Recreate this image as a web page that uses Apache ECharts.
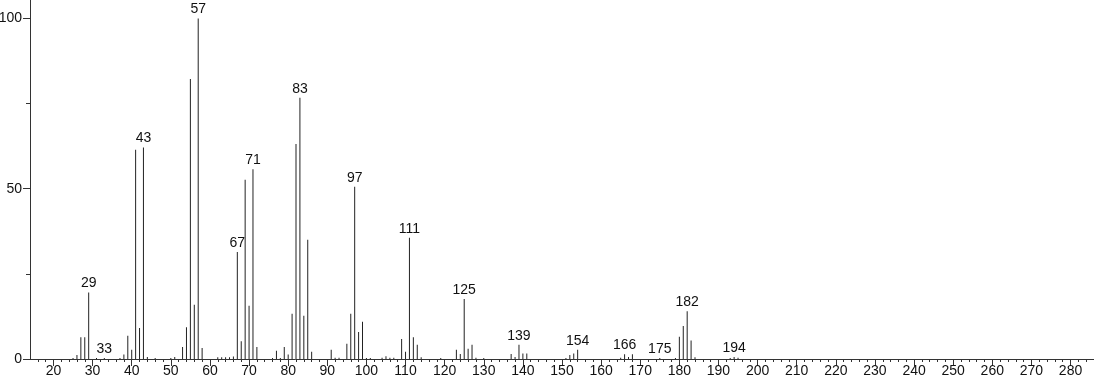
<!DOCTYPE html>
<html>
<head>
<meta charset="utf-8">
<script src="https://cdn.jsdelivr.net/npm/echarts@6/dist/echarts.min.js"></script>
<style>
html,body{margin:0;padding:0;background:#fff;}
#chart{width:1094px;height:384px;}
</style>
</head>
<body>
<div id="chart"></div>
<script>
// m/z values
const masses = [25,26,27,28,29,31,33,37,38,39,40,41,42,43,44,46,50,51,53,54,55,56,57,58,
  62,63,64,65,66,67,68,69,70,71,72,76,77,78,79,80,81,82,83,84,85,86,91,92,93,95,96,97,98,99,
  100,101,104,105,106,107,109,110,111,112,113,114,119,123,124,125,126,127,128,130,
  137,138,139,140,141,151,152,153,154,165,166,167,168,175,179,180,181,182,183,184,193,194,195];
// relative intensities
const intensities = [0.3,1.2,6.4,6.4,19.5,0.3,0.3,0.3,1.3,6.8,2.7,61.4,9.1,62.1,0.6,0.3,0.3,0.6,3.5,9.3,82.2,15.9,100,3.2,
  0.5,0.5,0.5,0.5,0.7,31.4,5.2,52.6,15.6,55.7,3.5,0.3,2.4,0.3,3.5,1.3,13.3,63.1,76.7,12.7,35.0,2.1,2.7,0.4,0.4,4.5,13.3,50.6,7.9,10.9,
  0.3,0.3,0.4,0.8,0.4,0.4,5.9,2.1,35.6,6.4,4.2,0.5,0.3,2.7,1.5,17.6,3.0,4.2,0.4,0.3,
  1.5,0.6,4.2,1.6,1.6,0.3,1.2,1.6,2.7,0.4,1.4,0.6,1.4,0.3,0.3,6.5,9.7,14.0,5.4,0.5,0.3,0.6,0.4];
// peaks that carry a label
const labeledPeaks = [29,33,43,57,67,71,83,97,111,125,139,154,166,175,182,194];
// axis ticks
const xMajorTicks = [20,30,40,50,60,70,80,90,100,110,120,130,140,150,160,170,180,190,200,210,220,230,240,250,260,270,280];
const xMinorTicks = [16,18,22,24,26,28,32,34,36,38,42,44,46,48,52,54,56,58,62,64,66,68,72,74,76,78,82,84,86,88,92,94,96,98,
  102,104,106,108,112,114,116,118,122,124,126,128,132,134,136,138,142,144,146,148,152,154,156,158,
  162,164,166,168,172,174,176,178,182,184,186,188,192,194,196,198,202,204,206,208,212,214,216,218,
  222,224,226,228,232,234,236,238,242,244,246,248,252,254,256,258,262,264,266,268,272,274,276,278,282,284];
const yMajorTicks = [0,50,100];
const yMinorTicks = [25,75];

const FONT = "'Liberation Sans', Arial, sans-serif";
const axisColor = '#333';

const data = masses.map((m, i) => ({
  value: [m, intensities[i]],
  label: { show: labeledPeaks.includes(m) }
}));

const chart = echarts.init(document.getElementById('chart'), null, {renderer: 'canvas'});
chart.setOption({
  animation: false,
  backgroundColor: '#fff',
  grid: { left: 30, right: 0, top: 0, bottom: 25, containLabel: false, outerBoundsMode: 'none' },
  xAxis: [
    {
      type: 'value', min: 14, max: 286, position: 'bottom',
      splitLine: { show: false },
      axisLine: { show: true, lineStyle: { color: axisColor, width: 1 } },
      axisTick: { show: true, length: 7, customValues: xMajorTicks, lineStyle: { color: axisColor } },
      axisLabel: { show: true, customValues: xMajorTicks, margin: 5, color: '#111', fontSize: 14, fontFamily: FONT }
    },
    {
      type: 'value', min: 14, max: 286, position: 'bottom', offset: 0,
      splitLine: { show: false },
      axisLine: { show: false },
      axisTick: { show: true, length: 3, customValues: xMinorTicks, lineStyle: { color: axisColor } },
      axisLabel: { show: false }
    }
  ],
  yAxis: [
    {
      type: 'value', min: 0, max: 105.4, position: 'left',
      splitLine: { show: false },
      axisLine: { show: true, lineStyle: { color: axisColor, width: 1 } },
      axisTick: { show: true, length: 7, customValues: yMajorTicks, lineStyle: { color: axisColor } },
      axisLabel: { show: true, customValues: yMajorTicks, margin: 8, color: '#111', fontSize: 14, fontFamily: FONT }
    },
    {
      type: 'value', min: 0, max: 105.4, position: 'left', offset: 0,
      splitLine: { show: false },
      axisLine: { show: false },
      axisTick: { show: true, length: 4, customValues: yMinorTicks, lineStyle: { color: axisColor } },
      axisLabel: { show: false }
    }
  ],
  series: [{
    type: 'bar',
    xAxisIndex: 0, yAxisIndex: 0,
    barWidth: 1,
    itemStyle: { color: '#222' },
    label: {
      position: 'top', distance: 2, color: '#111', fontSize: 14, fontFamily: FONT,
      formatter: p => String(p.value[0])
    },
    data: data
  }]
});
</script>
</body>
</html>
